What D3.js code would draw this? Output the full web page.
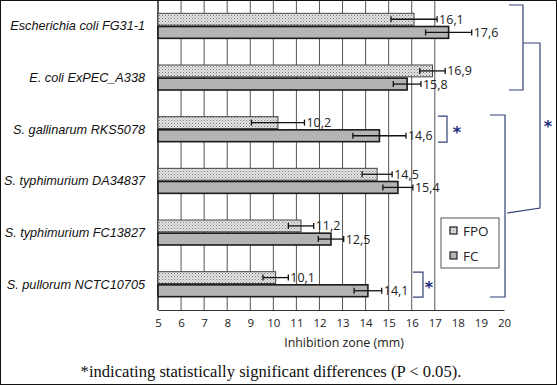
<!DOCTYPE html>
<html>
<head>
<meta charset="utf-8">
<script src="https://cdn.jsdelivr.net/npm/d3@7"></script>
<style>
	body { margin: 0; background: #fff; }
	svg { display: block; }
</style>
</head>
<body>
<div class="chart"></div>
<script>
// strains, top to bottom
let strains = ["Escherichia coli FG31-1", "E. coli ExPEC_A338", "S. gallinarum RKS5078",
	"S. typhimurium DA34837", "S. typhimurium FC13827", "S. pullorum NCTC10705"];
let fpoValues = [16.1, 16.9, 10.2, 14.5, 11.2, 10.1];
let fcValues = [17.6, 15.8, 14.6, 15.4, 12.5, 14.1];
let fpoErr = [1.0, 0.55, 1.15, 0.65, 0.55, 0.55];
let fcErr = [1.0, 0.6, 1.15, 0.65, 0.55, 0.6];
let xTicks = [5, 6, 7, 8, 9, 10, 11, 12, 13, 14, 15, 16, 17, 18, 19, 20];
let gridTicks = [6, 7, 8, 9, 10, 11, 12, 13, 14, 15, 16, 17];
let seriesNames = ["FPO", "FC"];

let width = 557, height = 385;
let plotLeft = 158, plotRight = 504, plotTop = 0, plotBottom = 310;

let svg = d3.select(".chart")
	.append("svg")
	.attr("width", width)
	.attr("height", height);

// stipple pattern for FPO
let defs = svg.append("defs");
let pat = defs.append("pattern")
	.attr("id", "dots")
	.attr("width", 3).attr("height", 3)
	.attr("patternUnits", "userSpaceOnUse");
pat.append("rect").attr("width", 3).attr("height", 3).attr("fill", "#e4e4e4");
pat.append("rect").attr("x", 0).attr("y", 0).attr("width", 1).attr("height", 1).attr("fill", "#7a7a7a");
pat.append("rect").attr("x", 1.5).attr("y", 1.5).attr("width", 1).attr("height", 1).attr("fill", "#9a9a9a");

let x = d3.scaleLinear().domain([5, 20]).range([plotLeft, plotRight]);
let y = d3.scaleBand().domain(strains).range([plotTop, plotBottom]);
let ySub = d3.scaleBand().domain(seriesNames).range([0, 25]).paddingInner(0.1);

// vertical gridlines
svg.append("g").selectAll("line")
	.data(gridTicks)
	.enter().append("line")
	.attr("x1", d => x(d)).attr("x2", d => x(d))
	.attr("y1", 1).attr("y2", plotBottom)
	.attr("stroke", "#555").attr("stroke-width", 1);

// axes lines
svg.append("line")
	.attr("x1", plotLeft).attr("x2", plotLeft).attr("y1", 1).attr("y2", plotBottom)
	.attr("stroke", "#222").attr("stroke-width", 1.5);

let xAxis = d3.axisBottom(x).tickValues(xTicks).tickSize(0).tickPadding(9);
let gx = svg.append("g")
	.attr("transform", "translate(0," + plotBottom + ")")
	.call(xAxis);
gx.select(".domain").attr("stroke", "#333").attr("stroke-width", 1.2);
gx.selectAll("text")
	.attr("font-family", "'Open Sans', sans-serif")
	.attr("font-size", 11.5)
	.attr("fill", "#222");

svg.append("text")
	.attr("x", 344).attr("y", 347)
	.attr("text-anchor", "middle")
	.attr("font-family", "'Open Sans', sans-serif")
	.attr("font-size", 12.4)
	.attr("fill", "#222")
	.text("Inhibition zone (mm)");

// category labels
svg.append("g").selectAll("text")
	.data(strains)
	.enter().append("text")
	.attr("x", 145)
	.attr("y", d => y(d) + y.bandwidth() / 2 + 4.5)
	.attr("text-anchor", "end")
	.attr("font-family", "'Liberation Sans', Arial, sans-serif")
	.attr("font-style", "italic")
	.attr("font-size", 12.7)
	.attr("fill", "#111")
	.text(d => d);

// build rows
let rows = [];
strains.forEach((s, i) => {
	rows.push({ strain: s, series: "FPO", value: fpoValues[i], err: fpoErr[i] });
	rows.push({ strain: s, series: "FC", value: fcValues[i], err: fcErr[i] });
});
let barY = d => y(d.strain) + y.bandwidth() / 2 - 12.5 + ySub(d.series);

svg.append("g").selectAll("rect")
	.data(rows)
	.enter().append("rect")
	.attr("x", plotLeft)
	.attr("y", barY)
	.attr("width", d => x(d.value) - plotLeft)
	.attr("height", ySub.bandwidth())
	.attr("fill", d => d.series == "FPO" ? "url(#dots)" : "#b4b4b4")
	.attr("stroke", d => d.series == "FPO" ? "#444" : "#1a1a1a")
	.attr("stroke-width", d => d.series == "FPO" ? 1 : 1.6);

// error bars
let eb = svg.append("g").selectAll("g")
	.data(rows)
	.enter().append("g")
	.attr("stroke", "#111").attr("stroke-width", 1.3);
eb.append("line")
	.attr("x1", d => x(d.value - d.err)).attr("x2", d => x(d.value + d.err))
	.attr("y1", d => barY(d) + ySub.bandwidth() / 2).attr("y2", d => barY(d) + ySub.bandwidth() / 2);
eb.append("line")
	.attr("x1", d => x(d.value - d.err)).attr("x2", d => x(d.value - d.err))
	.attr("y1", d => barY(d) + ySub.bandwidth() / 2 - 3).attr("y2", d => barY(d) + ySub.bandwidth() / 2 + 3);
eb.append("line")
	.attr("x1", d => x(d.value + d.err)).attr("x2", d => x(d.value + d.err))
	.attr("y1", d => barY(d) + ySub.bandwidth() / 2 - 3).attr("y2", d => barY(d) + ySub.bandwidth() / 2 + 3);

// value labels
svg.append("g").selectAll("text")
	.data(rows)
	.enter().append("text")
	.attr("x", d => x(d.value + d.err) + 2)
	.attr("y", d => barY(d) + ySub.bandwidth() / 2 + 4.5)
	.attr("font-family", "'Open Sans', sans-serif")
	.attr("font-size", 12.5)
	.attr("fill", "#222")
	.text(d => String(d.value).replace(".", ","));

// legend
let lg = svg.append("g").attr("transform", "translate(441,218)");
lg.append("rect").attr("width", 58).attr("height", 50)
	.attr("fill", "#fff").attr("stroke", "#555").attr("stroke-width", 1);
seriesNames.forEach((n, i) => {
	lg.append("rect")
		.attr("x", 9).attr("y", 9 + i * 25)
		.attr("width", 7).attr("height", 7)
		.attr("fill", n == "FPO" ? "url(#dots)" : "#b4b4b4")
		.attr("stroke", "#222").attr("stroke-width", 1.2);
	lg.append("text")
		.attr("x", 22).attr("y", 17.5 + i * 25)
		.attr("font-family", "'Open Sans', sans-serif")
		.attr("font-size", 13.5)
		.attr("fill", "#222")
		.text(n);
});

// significance brackets
let navy = "#34427a";
let br = svg.append("g").attr("fill", "none").attr("stroke", navy).attr("stroke-width", 1.2);
let bracket = function(x0, x1, ya, yb) {
	br.append("path").attr("d", "M" + x0 + "," + ya + "H" + x1 + "V" + yb + "H" + x0);
};
let yMid = i => y(strains[i]) + y.bandwidth() / 2;
bracket(509, 523, 5, 90);
bracket(490, 505, 115, 297);
bracket(438, 447, yMid(2) - 13, yMid(2) + 13);
bracket(413, 423, yMid(5) - 12, yMid(5) + 13);
br.append("path").attr("d", "M523,43H540V208L507,213");

let stars = [[457, yMid(2)], [429, yMid(5)], [548, 123]];
svg.append("g").selectAll("text")
	.data(stars)
	.enter().append("text")
	.attr("x", d => d[0]).attr("y", d => d[1] + 9)
	.attr("text-anchor", "middle")
	.attr("font-family", "'DejaVu Sans', sans-serif")
	.attr("font-size", 16)
	.attr("font-weight", "bold")
	.attr("fill", "#1e2c80")
	.text("*");

// footnote
svg.append("text")
	.attr("x", 271).attr("y", 377)
	.attr("text-anchor", "middle")
	.attr("font-family", "'Liberation Serif', 'Times New Roman', serif")
	.attr("font-size", 16.6)
	.attr("fill", "#111")
	.text("*indicating statistically significant differences (P < 0.05).");

// frame
svg.append("rect")
	.attr("x", 0.5).attr("y", 0.5).attr("width", width - 1).attr("height", height - 1)
	.attr("fill", "none").attr("stroke", "#111").attr("stroke-width", 1);
</script>
</body>
</html>
